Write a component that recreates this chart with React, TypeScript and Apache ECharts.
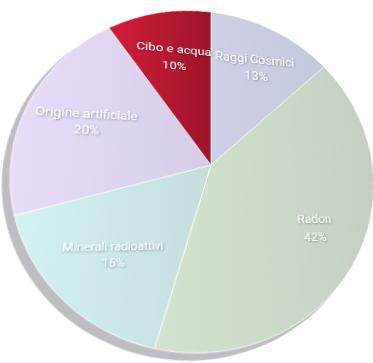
import React, { useEffect, useRef } from 'react';
import * as echarts from 'echarts';

const categories = ['Raggi Cosmici', 'Radon', 'Minerali radioattivi', 'Origine artificiale', 'Cibo e acqua'];
const percentages = [13, 42, 16, 20, 10];
const sliceColorsLeft = ['#cdd0e6', '#d1e4cc', '#d3f3f3', '#e7ddf9', '#d21e38'];
const sliceColorsRight = ['#c4c8dc', '#c5cfc3', '#c6dcdd', '#d5cce6', '#9c1428'];
// compensation of the perspective magnification at each label position
const labelScale = [1.09, 1.03, 0.82, 0.95, 1.045];

const SIZE = 500;
const C = 250;
const R = 182;
const ORIGIN_X = 211;
const ORIGIN_Y = 165;
const BASE_FONT = 13;
const BASE_LINE = 18.5;

export default function App() {
  const ref = useRef<HTMLDivElement>(null);
  useEffect(() => {
    const chart = echarts.init(ref.current!, undefined, { renderer: 'svg', width: SIZE, height: SIZE });
    const grad = (a: string, b: string) =>
      new echarts.graphic.LinearGradient(0, 0, 1, 0, [
        { offset: 0, color: a },
        { offset: 1, color: b },
      ]);
    chart.setOption({
      animation: false,
      graphic: [
        {
          type: 'circle',
          shape: { cx: C - 6, cy: C + 6, r: R },
          style: { fill: '#bdbdc2' },
          z: 0,
          silent: true,
        },
      ],
      series: [
        {
          type: 'pie',
          center: [C, C],
          radius: R,
          startAngle: 90,
          clockwise: true,
          silent: true,
          z: 2,
          label: { show: false },
          labelLine: { show: false },
          data: categories.map((name, i) => ({
            name,
            value: percentages[i],
            itemStyle: {
              color: grad(sliceColorsLeft[i], sliceColorsRight[i]),
              borderColor: 'rgba(255,255,255,0.75)',
              borderWidth: 1,
            },
          })),
        },
        {
          type: 'pie',
          center: [C, C],
          radius: [R * 0.36, R],
          startAngle: 90,
          clockwise: true,
          silent: true,
          avoidLabelOverlap: false,
          labelLayout: { hideOverlap: false },
          z: 3,
          labelLine: { show: false },
          label: {
            show: true,
            position: 'inside',
            formatter: (p: any) => `${p.name}\n${p.value}%`,
            color: '#ffffff',
            fontFamily: 'Roboto',
            fontSize: BASE_FONT,
            lineHeight: BASE_LINE,
            textShadowColor: 'rgba(0,0,0,0.35)',
            textShadowBlur: 2,
            textShadowOffsetX: 1,
            textShadowOffsetY: 1,
          },
          data: categories.map((name, i) => ({
            name,
            value: percentages[i],
            itemStyle: { color: 'rgba(0,0,0,0)' },
            label: {
              fontSize: BASE_FONT * labelScale[i],
              lineHeight: BASE_LINE * labelScale[i],
            },
          })),
        },
      ],
    });
    return () => chart.dispose();
  }, []);
  return (
    <div
      style={{
        position: 'fixed',
        left: 0,
        top: 0,
        width: 373,
        height: 363,
        overflow: 'hidden',
        background: '#ffffff',
      }}
    >
      <div
        ref={ref}
        style={{
          position: 'absolute',
          left: ORIGIN_X - C,
          top: ORIGIN_Y - C,
          width: SIZE,
          height: SIZE,
          transformOrigin: `${C}px ${C}px`,
          transform: 'scaleY(0.94) perspective(312px) rotateX(10deg) rotateY(10.5deg)',
        }}
      />
    </div>
  );
}
